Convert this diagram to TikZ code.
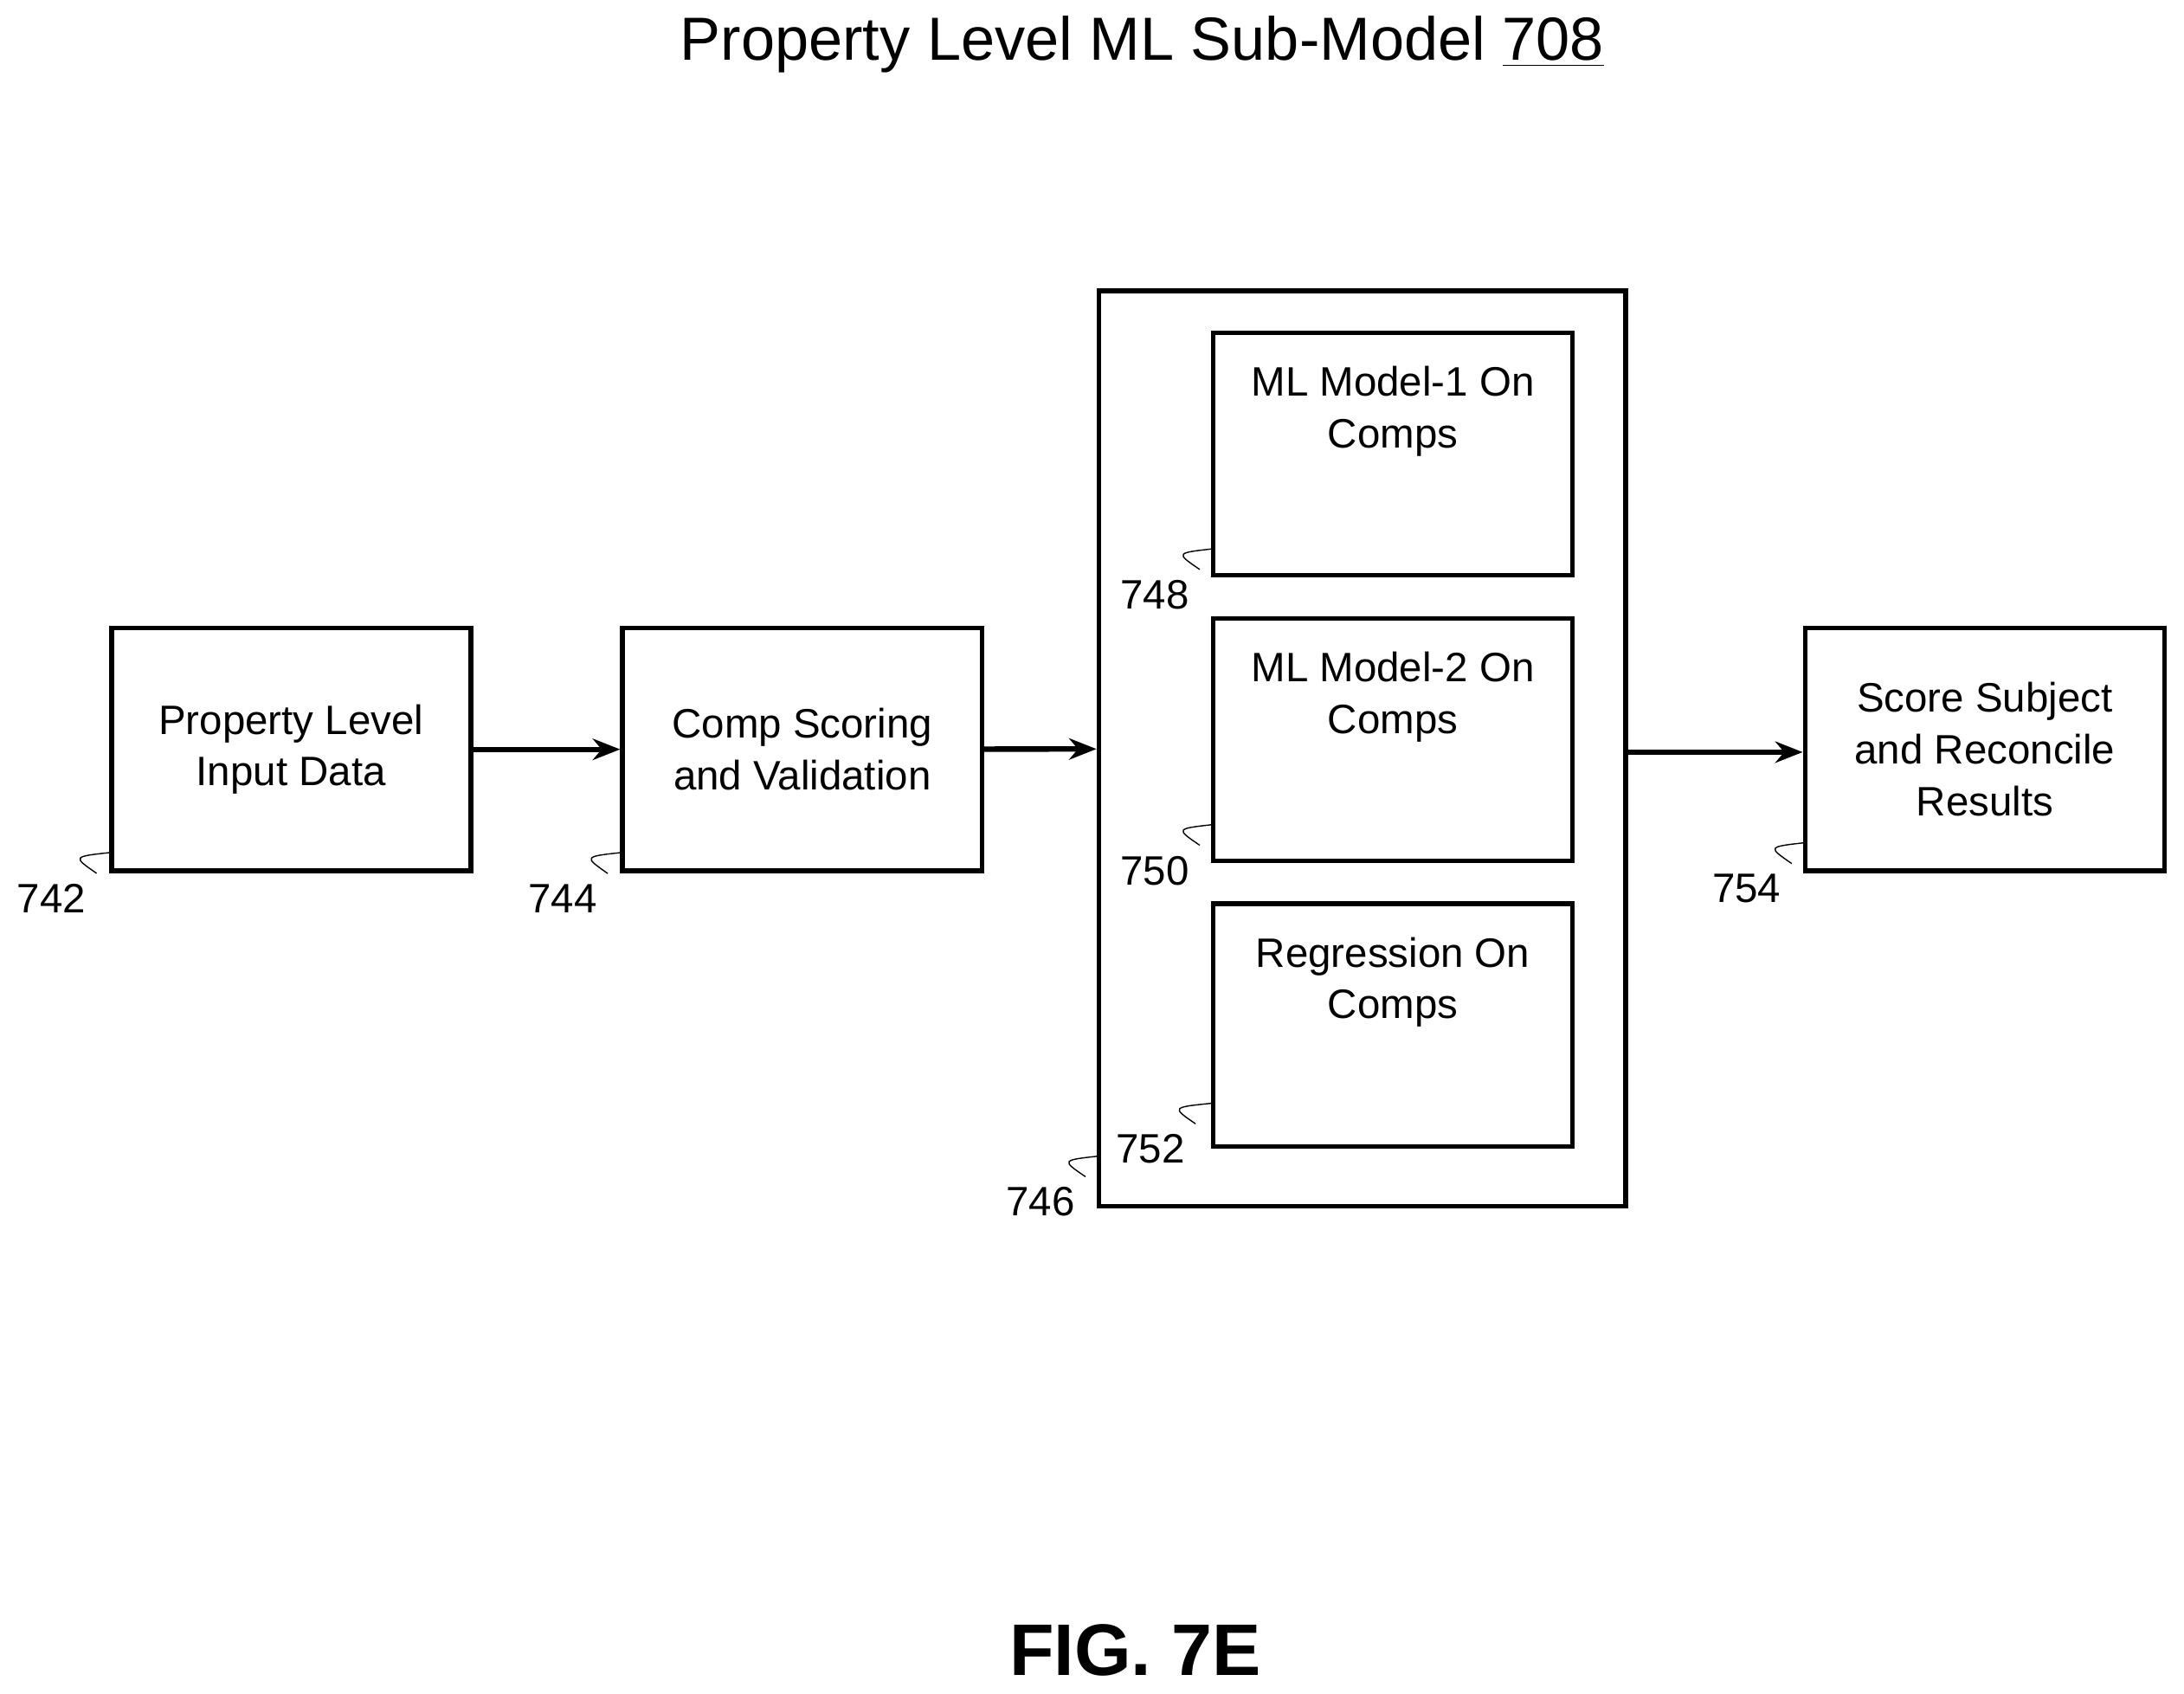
\documentclass[tikz,border=0pt]{standalone}
\usepackage{fontspec}
\setmainfont{Liberation Sans}
\usetikzlibrary{positioning}
\usetikzlibrary{arrows.meta}
\begin{document}
\begin{tikzpicture}[x=0.01609cm,y=-0.01609cm]
\tikzset{
  block/.style={rectangle,draw=black,line width=1.6pt,text centered,align=center,font=\fontsize{13.5}{17}\selectfont,minimum width=4.15cm,minimum height=2.8cm},
  frame/.style={rectangle,draw=black,line width=1.6pt,minimum width=6.08cm,minimum height=10.57cm},
  ref/.style={font=\fontsize{13.5}{16}\selectfont},
  arrow/.style={-{Stealth[length=9pt,width=7pt]},line width=1.8pt,draw=black},
  leader/.style={draw=black,line width=0.4pt},
}
\useasboundingbox (0,0) rectangle (1568,1216);
\node[font=\fontsize{20}{24}\selectfont] (title) at (820,32) {Property Level ML Sub-Model \underline{708}};
%
\node[block] (input) at (209,538) {Property Level\\Input Data};
\node[block] (scoring) at (576,538) {Comp Scoring\\and Validation};
\node[frame] (models) at (978,537.5) {};
\node[block] (mlone) at (1000,326) {ML Model-1 On\\Comps\\[14pt]};
\node[block] (mltwo) at (1000,531) {ML Model-2 On\\Comps\\[14pt]};
\node[block] (regr) at (1000,736) {Regression On\\Comps\\[14pt]};
\node[block] (result) at (1425,538) {Score Subject\\and Reconcile\\Results};
%
\path[arrow] (input) -- (scoring);
\path[arrow] (scoring) -- (models);
\path[arrow] (models.east |- 0,540) -- (result.west |- 0,540);
% reference numerals
\node[ref] (n742) at (37,645) {742};
\node[ref] (n744) at (404,645) {744};
\node[ref] (n746) at (747,863) {746};
\node[ref] (n748) at (829,427) {748};
\node[ref] (n750) at (829,625) {750};
\node[ref] (n752) at (826,825) {752};
\node[ref] (n754) at (1254,638) {754};
\draw[leader] (n742.north east) .. controls (52,615) .. (80,612);
\draw[leader] (n744.north east) .. controls (419,615) .. (447,612);
\draw[leader] (n746.north east) .. controls (762,833) .. (789,830);
\draw[leader] (n748.north east) .. controls (844,397) .. (871,394);
\draw[leader] (n750.north east) .. controls (844,595) .. (871,592);
\draw[leader] (n752.north east) .. controls (841,795) .. (871,792);
\draw[leader] (n754.north east) .. controls (1269,608) .. (1296,605);
%
\node[font=\bfseries\fontsize{24}{28}\selectfont] (fig) at (815,1185) {FIG. 7E};
\end{tikzpicture}
\end{document}
